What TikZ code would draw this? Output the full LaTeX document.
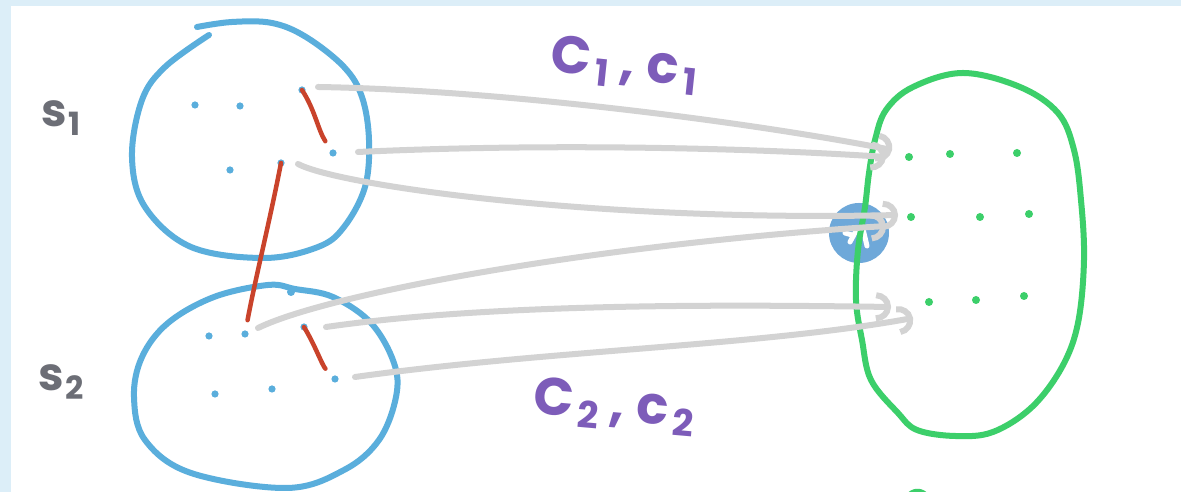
\documentclass[tikz,border=0pt]{standalone}
\usepackage{fontspec}
\setmainfont{Poppins}
\usetikzlibrary{arrows.meta}
\usepackage{xcolor}
\definecolor{setblue}{HTML}{5AAEDC}
\definecolor{imggreen}{HTML}{3CCF6A}
\definecolor{linkred}{HTML}{C9432B}
\definecolor{mapgray}{HTML}{D3D3D3}
\definecolor{labelpurple}{HTML}{7D5CB9}
\definecolor{labelgray}{HTML}{6C6E76}
\definecolor{framebg}{HTML}{DCEEF8}
\definecolor{knobblue}{HTML}{6EA8D9}

\begin{document}
\begin{tikzpicture}[x=0.01cm, y=-0.01cm, line join=round, line cap=round,
  setline/.style={line width=0.6mm, setblue},
  imgline/.style={line width=0.6mm, imggreen},
  redlink/.style={line width=0.45mm, linkred, shorten >=4pt},
  maparrow/.style={line width=0.6mm, mapgray, -{Arc Barb[length=1.5mm, width=2.9mm]}},
  purplelabel/.style={labelpurple, font=\fontsize{15}{17}\selectfont\bfseries, inner sep=1pt},
  setlabel/.style={labelgray, font=\fontsize{13}{15}\selectfont\bfseries}]
  % ========================================================
  % 0. FRAME
  % ========================================================
  \fill[framebg] (0,0) rectangle (1181,492);
  \fill[white] (11,6) rectangle (1181,492);
  \useasboundingbox (0,0) rectangle (1181,492);

  % ========================================================
  % 1. POINT COORDINATES
  % ========================================================
  % points of s1
  \coordinate (A1) at (195,105);
  \coordinate (A2) at (240,106);
  \coordinate (A3) at (302,90);
  \coordinate (A4) at (230,170);
  \coordinate (A5) at (281,163);
  \coordinate (A6) at (333,153);
  % points of s2
  \coordinate (B1) at (209,336);
  \coordinate (B2) at (245,334);
  \coordinate (B3) at (304,327);
  \coordinate (B4) at (215,394);
  \coordinate (B5) at (272,389);
  \coordinate (B6) at (335,379);
  % points of the image set
  \coordinate (G1) at (909,157);
  \coordinate (G2) at (950,154);
  \coordinate (G3) at (1017,153);
  \coordinate (G4) at (911,217);
  \coordinate (G5) at (980,217);
  \coordinate (G6) at (1029,214);
  \coordinate (G7) at (929,302);
  \coordinate (G8) at (976,300);
  \coordinate (G9) at (1024,296);
  % blue knob
  \coordinate (K) at (859,233);

  % ========================================================
  % 2. KNOB (behind everything)
  % ========================================================
  \fill[knobblue] (K) circle (30);
  \draw[white, line width=0.5mm] (850,242) -- (857,229) (863,229) -- (867,246) (845,233) -- (852,235);

  % ========================================================
  % 3. SETS S1, S2 AND THE IMAGE SET
  % ========================================================
  \draw[setline] plot[smooth, tension=0.6] coordinates {(209,35) (165,67) (142,100) (132,157) (145,207) (191,247) (264,258) (318,247) (344,227) (365,187) (369,140) (362,97) (344,67) (306,37) (272,23) (232,22) (197,27)};
  \draw[setline] plot[smooth cycle, tension=0.6] coordinates {(268,285) (214,297) (168,323) (142,357) (134,397) (145,440) (191,473) (287,488) (344,470) (379,440) (396,397) (394,363) (371,323) (333,297) (295,289)};
  \fill[setblue] (291,292) circle (4);
  \draw[imgline] plot[smooth cycle, tension=0.6] coordinates {(963,73) (1020,87) (1058,113) (1074,150) (1081,200) (1084,260) (1078,323) (1062,367) (1032,407) (993,432) (955,436) (917,430) (898,413) (871,380) (862,340) (856,300) (858,250) (865,207) (869,173) (875,140) (886,110) (913,87)};
  \draw[imgline] (908,497) .. controls (913,490) and (922,490) .. (927,497);

  % ========================================================
  % 4. DOTS
  % ========================================================
  \foreach \p in {A1,A2,A3,A4,A5,A6,B1,B2,B3,B4,B5,B6}
    \fill[setblue] (\p) circle (3.6);
  \foreach \p in {G1,G2,G3,G4,G5,G6,G7,G8,G9}
    \fill[imggreen] (\p) circle (4);

  % ========================================================
  % 5. RED LINKS
  % ========================================================
  \draw[redlink] (A3) .. controls (315,110) and (318,130) .. (A6);
  \draw[redlink] (A5) .. controls (270,220) and (255,280) .. (B2);
  \draw[redlink] (B3) .. controls (315,345) and (322,365) .. (B6);

  % ========================================================
  % 6. MAPPING ARROWS
  % ========================================================
  \coordinate (a1s) at (318,87);   \coordinate (a1e) at (892,150);
  \coordinate (a2s) at (358,152);  \coordinate (a2e) at (886,157);
  \coordinate (a3s) at (298,164);  \coordinate (a3e) at (898,215);
  \coordinate (a4s) at (258,328);  \coordinate (a4e) at (886,226);
  \coordinate (a5s) at (326,327);  \coordinate (a5e) at (891,307);
  \coordinate (a6s) at (355,377);  \coordinate (a6e) at (913,318);
  \draw[maparrow] (a1s) .. controls (500,90) and (750,122) .. (a1e);
  \draw[maparrow] (a2s) .. controls (550,143) and (750,148) .. (a2e);
  \draw[maparrow] (a3s) .. controls (340,186) and (600,222) .. (a3e);
  \draw[maparrow] (a4s) .. controls (330,293) and (600,244) .. (a4e);
  \draw[maparrow] (a5s) .. controls (500,302) and (750,305) .. (a5e);
  \draw[maparrow] (a6s) .. controls (550,350) and (760,346) .. (a6e);

  % ========================================================
  % 7. LABELS
  % ========================================================
  \node[setlabel] (s1) at (62,118) {s\kern0.5pt\textsubscript{1}};
  \node[setlabel] (s2) at (62,382) {s\kern0.5pt\textsubscript{2}};
  \node[purplelabel, rotate=-6] (c1) at (625,65) {C\kern1.5pt\textsubscript{1}\hspace{0.8mm},\hspace{1.2mm}c\kern1.5pt\textsubscript{1}};
  \node[purplelabel, rotate=-5] (c2) at (615,407) {C\kern1.5pt\textsubscript{2}\hspace{0.8mm},\hspace{1.2mm}c\kern1.5pt\textsubscript{2}};

\end{tikzpicture}
\end{document}
